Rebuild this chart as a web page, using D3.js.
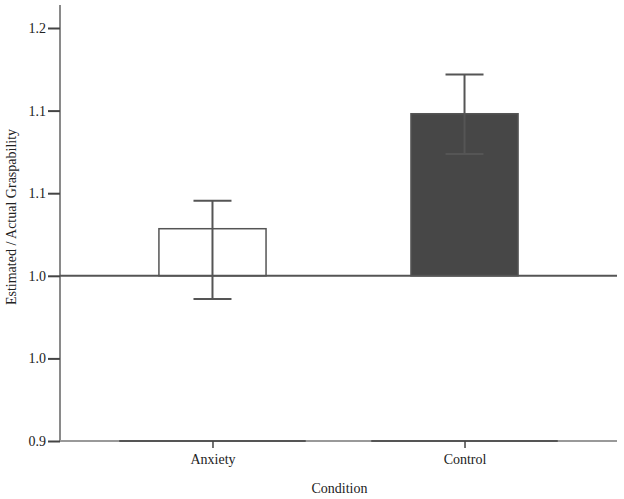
<!DOCTYPE html>
<html><head><meta charset="utf-8">
<script src="https://cdn.jsdelivr.net/npm/d3@7"></script>
<style>body{margin:0;background:#fff}svg{display:block}</style>
</head><body><svg id="c" width="624" height="499"></svg>
<script>
const categories = ["Anxiety", "Control"];
const means = [1.0285, 1.0981];
const ciLow = [0.9859, 1.0737];
const ciHigh = [1.0454, 1.1219];
const yTicks = [0.90, 0.95, 1.00, 1.05, 1.10, 1.15];
const yTickLabels = ["0.9", "1.0", "1.0", "1.1", "1.1", "1.2"];
const baseline = 1.0;

(function () {
const FONT = "'Liberation Serif', serif";
const svg = d3.select("#c");
const pLeft = 60, pRight = 617, pTop = 5, pBottom = 441;
const y = d3.scaleLinear().domain([0.90, 1.15]).range([441, 28]);
const x = d3.scalePoint().domain(categories).range([pLeft, pRight]).padding(0.605);
const step = x.step();
const barW = step * 0.425;

// y axis
svg.append("line").attr("x1", pLeft).attr("x2", pLeft).attr("y1", pTop).attr("y2", pBottom)
  .attr("stroke", "#8a8a8a").attr("stroke-width", 2);
const yAxis = d3.axisLeft(y).tickValues(yTicks).tickSize(12).tickPadding(2)
  .tickFormat((d, i) => yTickLabels[i]);
const gy = svg.append("g").attr("transform", `translate(${pLeft},0)`).call(yAxis)
  .attr("font-family", FONT).attr("font-size", 14);
gy.select(".domain").remove();
gy.selectAll(".tick line").attr("stroke", "#444").attr("stroke-width", 2);
gy.selectAll(".tick text").style("font-family", FONT).style("font-size", "14px").attr("fill", "#222");

// bottom axis line
svg.append("line").attr("x1", pLeft).attr("x2", pRight).attr("y1", pBottom).attr("y2", pBottom)
  .attr("stroke", "#999").attr("stroke-width", 2);
svg.selectAll(".seg").data(categories).join("line")
  .attr("x1", d => x(d) - step * 0.37).attr("x2", d => x(d) + step * 0.37)
  .attr("y1", pBottom).attr("y2", pBottom).attr("stroke", "#555").attr("stroke-width", 2);
const xAxis = d3.axisBottom(x).tickSize(7).tickPadding(6);
const gx = svg.append("g").attr("transform", `translate(0,${pBottom})`).call(xAxis)
  .attr("font-family", FONT).attr("font-size", 14);
gx.select(".domain").remove();
gx.selectAll(".tick line").attr("stroke", "#444").attr("stroke-width", 1.5);
gx.selectAll(".tick text").style("font-family", FONT).style("font-size", "14px").attr("fill", "#222");

// bars
const fills = ["#ffffff", "#474747"];
svg.selectAll(".bar").data(categories).join("rect")
  .attr("x", d => x(d) - barW / 2).attr("width", barW)
  .attr("y", (d, i) => y(means[i])).attr("height", (d, i) => y(baseline) - y(means[i]))
  .attr("fill", (d, i) => fills[i]).attr("stroke", "#555").attr("stroke-width", 1.5);

// baseline reference line
svg.append("line").attr("x1", pLeft).attr("x2", pRight).attr("y1", y(baseline)).attr("y2", y(baseline))
  .attr("stroke", "#555").attr("stroke-width", 2);

// error bars
const capW = 38;
categories.forEach((c, i) => {
  const g = svg.append("g").attr("stroke", "#555").attr("stroke-width", 2);
  g.append("line").attr("x1", x(c)).attr("x2", x(c)).attr("y1", y(ciLow[i])).attr("y2", y(ciHigh[i]));
  g.append("line").attr("x1", x(c) - capW / 2).attr("x2", x(c) + capW / 2).attr("y1", y(ciLow[i])).attr("y2", y(ciLow[i]));
  g.append("line").attr("x1", x(c) - capW / 2).attr("x2", x(c) + capW / 2).attr("y1", y(ciHigh[i])).attr("y2", y(ciHigh[i]));
});

// axis titles
svg.append("text").attr("x", (pLeft + pRight) / 2 + 1).attr("y", 493).attr("text-anchor", "middle")
  .style("font-family", FONT).style("font-size", "14px").attr("fill", "#222").text("Condition");
svg.append("text").attr("transform", "translate(16,217) rotate(-90)").attr("text-anchor", "middle")
  .style("font-family", FONT).style("font-size", "14px").attr("fill", "#222").text("Estimated / Actual Graspability");
})();
</script></body></html>
